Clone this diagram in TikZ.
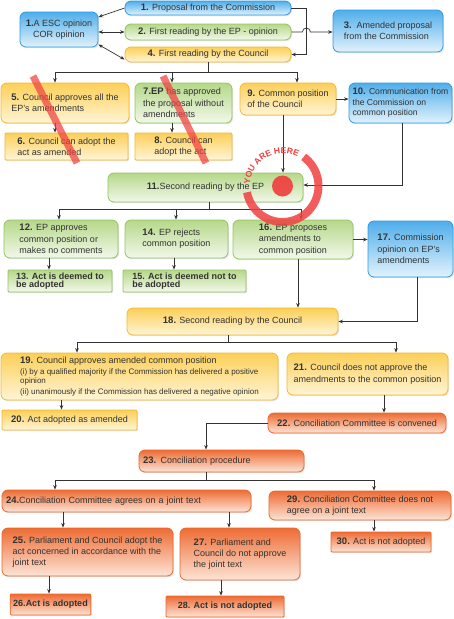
\documentclass[tikz,border=0pt]{standalone}
\usepackage{fontspec}
\setmainfont{Liberation Sans}
\usetikzlibrary{arrows.meta,shadows,decorations.text}
\definecolor{txt}{HTML}{333333}
\definecolor{lin}{HTML}{333333}
\definecolor{bluebd}{HTML}{2C9BE0}
\definecolor{bluetop}{HTML}{4FAEEA}
\definecolor{bluebot}{HTML}{E2F2FC}
\definecolor{greenbd}{HTML}{93C460}
\definecolor{greentop}{HTML}{B6D889}
\definecolor{greenbot}{HTML}{F2F8EA}
\definecolor{yellowbd}{HTML}{F5B832}
\definecolor{yellowtop}{HTML}{FCCF58}
\definecolor{yellowbot}{HTML}{FFF5D6}
\definecolor{orangebd}{HTML}{E8692F}
\definecolor{orangetop}{HTML}{EE6C34}
\definecolor{orangebot}{HTML}{FDE4D6}
\definecolor{stampred}{HTML}{F04040}
\newcommand\numb[1]{{\fontsize{9.5}{11}\selectfont\bfseries #1}}
\newcommand\smallf{\fontsize{8}{10.5}\selectfont}
\begin{document}
\begin{tikzpicture}[x=1pt,y=-1pt,
  font=\fontsize{9}{11.3}\selectfont,
  wh/.style 2 args={minimum width=#1pt, minimum height=#2pt},
  box/.style={draw, line width=0.8pt, rounded corners=6pt, inner xsep=3pt, inner ysep=1pt,
    align=left, text=txt,
    drop shadow={opacity=0.22, shadow xshift=1pt, shadow yshift=-1.2pt}},
  rbox/.style={box, rounded corners=1pt},
  bluec/.style={draw=bluebd, top color=bluetop, bottom color=bluebot},
  greenc/.style={draw=greenbd, top color=greentop, bottom color=greenbot},
  yellowc/.style={draw=yellowbd, top color=yellowtop, bottom color=yellowbot},
  orangec/.style={draw=orangebd, top color=orangetop, bottom color=orangebot},
  tightb/.style={font=\fontsize{9}{8}\selectfont\bfseries},
  lin/.style={draw=lin, line width=0.7pt},
  arr/.style={lin, -{Stealth[length=4.5pt,width=3.6pt]}},
  dbl/.style={lin, {Stealth[length=4.5pt,width=3.6pt]}-{Stealth[length=4.5pt,width=3.6pt]}},
  slash/.style={draw=stampred, line width=7pt, opacity=0.72}
]
\useasboundingbox (0,0) rectangle (453,619);

% ---- nodes
\node[box,bluec,wh={166}{14},align=center] (n1) at (208,8) {\numb{1.} Proposal from the Commission};
\node[box,bluec,wh={78}{35},align=center,inner xsep=1pt] (n1a) at (59,29.5) {\numb{1.}A ESC opinion\\COR opinion};
\node[box,greenc,wh={166}{16},align=center] (n2) at (208,32) {\numb{2.} First reading by the EP - opinion};
\node[box,bluec,wh={110}{42}] (n3) at (388,31) {\numb{3.}\ \ Amended proposal\\from the Commission};
\node[box,yellowc,wh={166}{15},align=center] (n4) at (208,54.5) {\numb{4.} First reading by the Council};

\node[box,yellowc,wh={128}{40}] (n5) at (65,103) {\numb{5.} Council approves all the\\EP's amendments};
\node[rbox,yellowc,wh={123}{27}] (n6) at (66.5,146.5) {\numb{6.} Council can adopt the\\act as amended};
\node[box,greenc,wh={97}{40}] (n7) at (183.5,103) {\numb{7.EP} has approved\\the proposal without\\amendments};
\node[rbox,yellowc,wh={97}{27}] (n8) at (183.5,146.5) {\numb{8.} Council can\\adopt the act};
\node[box,yellowc,wh={96}{32}] (n9) at (288,99) {\numb{9.} Common position\\of the Council};
\node[box,bluec,wh={103}{40},font=\fontsize{8.6}{10.5}\selectfont] (n10) at (400.5,103) {\numb{10.} Communication from\\the Commission on\\common position};

\node[box,greenc,wh={195}{29},align=center] (n11) at (205.5,187.5) {\numb{11.}Second reading by the EP};
\node[box,greenc,wh={114}{38}] (n12) at (61,239) {\numb{12.} EP approves\\common position or\\makes no comments};
\node[rbox,greenc,wh={104}{22},tightb] (n13) at (60,281) {13. Act is deemed to\\be adopted};
\node[box,greenc,wh={103}{38}] (n14) at (176.5,239) {\numb{14.} EP rejects\\common position};
\node[rbox,greenc,wh={123}{22},tightb] (n15) at (184.5,281) {15. Act is deemed not to\\be adopted};
\node[box,greenc,wh={120}{39}] (n16) at (293,239.5) {\numb{16.} EP proposes\\amendments to\\common position};
\node[box,bluec,wh={85}{56}] (n17) at (410.5,249) {\numb{17.} Commission\\opinion on EP's\\amendments};

\node[box,yellowc,wh={211}{27},align=center] (n18) at (232.5,321.5) {\numb{18.} Second reading by the Council};
\node[box,yellowc,wh={277}{47}] (n19) at (139.5,376.5) {\numb{19.} Council approves amended common position\\[-1pt]
  {\smallf (i) by a qualified majority if the Commission has delivered a positive}\\[-1.5pt]
  {\smallf opinion}\\[-1pt]
  {\smallf (ii) unanimously if the Commission has delivered a negative opinion}};
\node[rbox,yellowc,wh={135}{20}] (n20) at (69.5,420) {\numb{20.} Act adopted as amended};
\node[box,yellowc,wh={161}{42}] (n21) at (367.5,374) {\numb{21.} Council does not approve the\\amendments to the common position};
\node[box,orangec,wh={178}{20}] (n22) at (357,423) {\numb{22.} Conciliation Committee is convened};
\node[box,orangec,wh={165}{22},text width=157pt] (n23) at (221.5,461) {\numb{23.} Conciliation procedure};
\node[box,orangec,wh={249}{22},text width=241pt] (n24) at (126.5,501) {\numb{24.}Conciliation Committee agrees on a joint text};
\node[box,orangec,wh={182}{29}] (n29) at (360,505.5) {\numb{29.} Conciliation Committee does not\\agree on a joint text};
\node[box,orangec,wh={171}{48}] (n25) at (87.5,552) {\numb{25.} Parliament and Council adopt the\\act concerned in accordance with the\\joint text};
\node[box,orangec,wh={120}{52}] (n27) at (240,554) {\numb{27.} Parliament and\\Council do not approve\\the joint text};
\node[rbox,orangec,wh={100}{20}] (n30) at (381,542) {\numb{30.} Act is not adopted};
\node[rbox,orangec,wh={77}{21},font=\fontsize{9}{11}\selectfont\bfseries] (n26) at (50.5,604.5) {26.Act is adopted};
\node[rbox,orangec,wh={118}{21},font=\fontsize{9}{11}\selectfont\bfseries] (n28) at (225,606.5) {28. Act is not adopted};

% ---- connectors
\draw[arr] (n1.west) -- ([yshift=12.5pt]n1a.east);
\draw[dbl] (n1a.east |- n2.west) -- (n2.west);
\draw[dbl] ([yshift=-15pt]n1a.east) -- ([yshift=-5pt]n4.west);
\draw[arr] (n1.east) -- ++(15,0) |- (n4.east);
\draw[arr] (n2.east) -- ++(11,0) arc[start angle=180,end angle=360,radius=4] -- (n3.west |- n2.east);

\draw[lin] (n4.south) -- ++(0,10) coordinate (j4);
\draw[arr] (j4) -| ([xshift=-10pt]n5.north);
\draw[arr] (j4) -| ([xshift=-11.5pt]n7.north);
\draw[arr] (j4) -| ([xshift=9pt]n9.north);
\draw[arr] ([xshift=-10pt]n5.south) -- ([xshift=-10pt]n5.south |- n6.north);
\draw[arr] ([xshift=-11.5pt]n7.south) -- ([xshift=-11.5pt]n7.south |- n8.north);
\draw[arr] (n9.east) -- (n9.east -| n10.west);
\draw[arr] ([xshift=-5pt]n9.south) -- ([xshift=-5pt]n9.south |- n11.north);
\draw[arr] ([xshift=1.5pt]n10.south) |- ([yshift=2.5pt]n11.east);

\draw[lin] ([xshift=3.5pt]n11.south) -- ++(0,7) coordinate (j11);
\draw[arr] (j11) -| ([xshift=-2pt]n12.north);
\draw[arr] (j11) -| ([xshift=-0.5pt]n14.north);
\draw[arr] (j11) -| ([xshift=8pt]n16.north);
\draw[arr] ([xshift=-12pt]n12.south) -- ([xshift=-12pt]n12.south |- n13.north);
\draw[arr] ([xshift=-2.5pt]n14.south) -- ([xshift=-2.5pt]n14.south |- n15.north);
\draw[arr] (n16.east) -- (n16.east -| n17.west);
\draw[arr] ([xshift=5pt]n16.south) -- ([xshift=5pt]n16.south |- n18.north);
\draw[arr] ([xshift=6.5pt]n17.south) |- (n18.east);

\draw[lin] ([xshift=-4.5pt]n18.south) -- ++(0,7) coordinate (j18);
\draw[arr] (j18) -| ([xshift=-62.5pt]n19.north);
\draw[arr] (j18) -| ([xshift=28.5pt]n21.north);
\draw[arr] ([xshift=-78pt]n19.south) -- ([xshift=-78pt]n19.south |- n20.north);
\draw[arr] ([xshift=16.5pt]n21.south) -- ([xshift=16.5pt]n21.south |- n22.north);
\draw[arr] (n22.west) -| ([xshift=-15.5pt]n23.north);

\draw[lin] ([xshift=-15.5pt]n23.south) -- ++(0,8) coordinate (j23);
\draw[arr] (j23) -| ([xshift=-71.5pt]n24.north);
\draw[arr] (j23) -| ([xshift=14pt]n29.north);
\draw[arr] ([xshift=-63.5pt]n24.south) -- ([xshift=-63.5pt]n24.south |- n25.north);
\draw[arr] ([xshift=102.5pt]n24.south) -- ([xshift=102.5pt]n24.south |- n27.north);
\draw[arr] ([xshift=-38.5pt]n25.south) -- ([xshift=-38.5pt]n25.south |- n26.north);
\draw[arr] ([xshift=-19pt]n27.south) -- ([xshift=-19pt]n27.south |- n28.north);
\draw[arr] ([xshift=14pt]n29.south) -- ([xshift=14pt]n29.south |- n30.north);

% ---- red slashes
\draw[slash] (33,76) -- (77,163);
\draw[slash] (163,76) -- (206,163);

% ---- "you are here" stamp
\begin{scope}[shift={(282.5pt,-186pt)}, x=1pt, y=1pt]
  \fill[stampred, opacity=0.92] (0,0) circle (10.5);
  \draw[stampred, line width=8pt, opacity=0.85] (54:36) arc[start angle=54, end angle=-170, radius=36];
  \path[decorate, decoration={text along path, text align=center,
      text={|\fontsize{8.6}{8.6}\selectfont\bfseries\color{stampred}|YOU ARE HERE}}]
    (190:32.5) arc[start angle=190, end angle=50, radius=32.5];
\end{scope}
\end{tikzpicture}
\end{document}
